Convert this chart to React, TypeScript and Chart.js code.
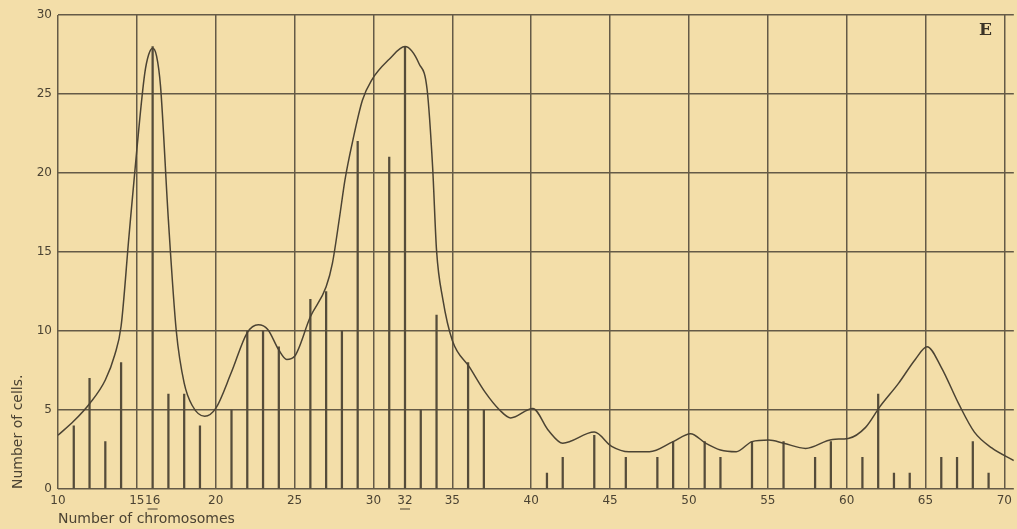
import React, { useEffect, useRef } from "react";
import { Chart, registerables } from "chart.js";

Chart.register(...registerables);

// Bar (frequency) data: number of chromosomes -> number of cells
const barX = [11, 12, 13, 14, 16, 17, 18, 19, 21, 22, 23, 24, 26, 27, 28, 29, 31, 32, 33, 34, 36, 37, 41, 42, 44, 46, 48, 49, 51, 52, 54, 56, 58, 59, 61, 62, 63, 64, 66, 67, 68, 69];
const barY = [4, 7, 3, 8, 28, 6, 6, 4, 5, 10, 10, 9, 12, 12.5, 10, 22, 21, 28, 5, 11, 8, 5, 1, 2, 3.4, 2, 2, 3, 3, 2, 3, 3, 2, 3, 2, 6, 1, 1, 2, 2, 3, 1];

// Smoothed frequency curve
const curveX = [10, 11, 12, 13, 13.6, 14, 14.5, 15, 15.5, 15.75, 16, 16.25, 16.5, 17, 17.5, 18, 18.5, 19.3, 20, 21, 22, 22.7, 23.3, 24, 24.5, 25, 26, 27, 27.4, 27.85, 28.2, 28.7, 29.3, 29.9, 31, 32, 32.9, 33.4, 33.75, 34, 34.4, 35, 36.1, 37.1, 38, 38.7, 40.1, 41.1, 42, 44, 45.1, 46.2, 47.5, 49, 50.1, 51.06, 52, 53, 54, 55.06, 56, 57.4, 59.1, 60.1, 61.2, 62.1, 63.3, 64.35, 65.1, 66, 67.1, 68.1, 69.2, 70.6];
const curveY = [3.4, 4.3, 5.4, 6.9, 8.5, 10.3, 16, 21.5, 26.3, 27.5, 27.9, 27.4, 25.5, 17, 10, 6.7, 5.3, 4.6, 5.1, 7.4, 9.9, 10.4, 10.1, 8.8, 8.2, 8.4, 10.9, 12.8, 14.3, 17.2, 19.6, 22.1, 24.6, 25.9, 27.2, 28.0, 26.9, 25.3, 20.4, 15.1, 12.0, 9.4, 7.7, 6.1, 5.0, 4.5, 5.1, 3.7, 2.9, 3.6, 2.7, 2.36, 2.36, 3.0, 3.5, 2.9, 2.47, 2.36, 3.0, 3.1, 2.9, 2.57, 3.14, 3.2, 3.9, 5.2, 6.7, 8.2, 9.0, 7.7, 5.4, 3.6, 2.6, 1.8];

const xTickValues = [10, 15, 16, 20, 25, 30, 32, 35, 40, 45, 50, 55, 60, 65, 70];
const underlinedTicks = [16, 32];
const panelLabel = "E";
const xTitle = "Number of chromosomes";
const yTitle = "Number of cells.";

const BG = "#f3dea9";
const INK = "#4b4333";
const BAR = "#554c3a";
const GRID = "#645a47";

export default function App() {
  const ref = useRef<HTMLCanvasElement | null>(null);

  useEffect(() => {
    document.body.style.margin = "0";
    document.body.style.background = BG;
    const canvas = ref.current;
    if (!canvas) return;

    const bgPlugin = {
      id: "bg",
      beforeDraw(chart: any) {
        const c = chart.ctx;
        c.save();
        c.fillStyle = BG;
        c.fillRect(0, 0, chart.width, chart.height);
        c.restore();
      },
    };

    const decoPlugin = {
      id: "deco",
      afterDraw(chart: any) {
        const c = chart.ctx;
        const xs = chart.scales.x;
        const ys = chart.scales.y;
        c.save();
        c.strokeStyle = INK;
        c.lineWidth = 1;
        underlinedTicks.forEach((v) => {
          const px = xs.getPixelForValue(v);
          const py = ys.getPixelForValue(0) + 20;
          c.beginPath();
          c.moveTo(px - 5, py);
          c.lineTo(px + 5, py);
          c.stroke();
        });
        c.fillStyle = "#3a3326";
        c.font = "bold 17px 'DejaVu Serif', 'Liberation Serif', serif";
        c.textAlign = "center";
        c.textBaseline = "middle";
        c.fillText(panelLabel, xs.getPixelForValue(68.8), ys.getPixelForValue(29));
        c.restore();
      },
    };

    const chart = new Chart(canvas, {
      type: "bar",
      data: {
        datasets: [
          {
            type: "line",
            data: curveX.map((x, i) => ({ x, y: curveY[i] })),
            borderColor: INK,
            borderWidth: 1.5,
            pointRadius: 0,
            cubicInterpolationMode: "monotone",
            fill: false,
            order: 0,
          } as any,
          {
            type: "bar",
            data: barX.map((x, i) => ({ x, y: barY[i] })),
            backgroundColor: BAR,
            barThickness: 1.6,
            order: 1,
          } as any,
        ],
      },
      options: {
        responsive: false,
        animation: false,
        plugins: {
          legend: { display: false },
          tooltip: { enabled: false },
        },
        layout: { padding: { top: 15, right: 0, left: 0, bottom: 0 } },
        scales: {
          x: {
            type: "linear",
            min: 10,
            max: 70.6,
            offset: false,
            afterBuildTicks: (scale: any) => {
              scale.ticks = xTickValues.map((v) => ({ value: v }));
            },
            afterFit: (scale: any) => {
              scale.height = 40;
            },
            grid: {
              color: (ctx: any) =>
                ctx.tick && ctx.tick.value % 5 === 0 ? GRID : "rgba(0,0,0,0)",
              lineWidth: 1.5,
              drawTicks: false,
              offset: false,
            },
            border: { display: false },
            ticks: {
              autoSkip: false,
              maxRotation: 0,
              minRotation: 0,
              padding: 5,
              color: INK,
              font: { family: "'DejaVu Sans', sans-serif", size: 12 },
              callback: (v: any) => String(v),
            },
            title: {
              display: true,
              text: xTitle,
              align: "start",
              color: INK,
              font: { family: "'DejaVu Sans', sans-serif", size: 14 },
              padding: { top: 0, bottom: 1 },
            },
          },
          y: {
            type: "linear",
            min: 0,
            max: 30,
            afterFit: (scale: any) => {
              scale.width = 58;
            },
            grid: {
              color: GRID,
              lineWidth: 1.5,
              drawTicks: false,
            },
            border: { display: false },
            ticks: {
              stepSize: 5,
              padding: 6,
              color: INK,
              font: { family: "'DejaVu Sans', sans-serif", size: 12 },
            },
            title: {
              display: true,
              text: yTitle,
              align: "start",
              color: INK,
              font: { family: "'DejaVu Sans', sans-serif", size: 14 },
              padding: { top: 10, bottom: 0 },
            },
          },
        },
      },
      plugins: [bgPlugin, decoPlugin],
    });

    return () => chart.destroy();
  }, []);

  return (
    <div style={{ width: 1017, height: 529 }}>
      <canvas ref={ref} width={1017} height={529} style={{ display: "block" }} />
    </div>
  );
}
